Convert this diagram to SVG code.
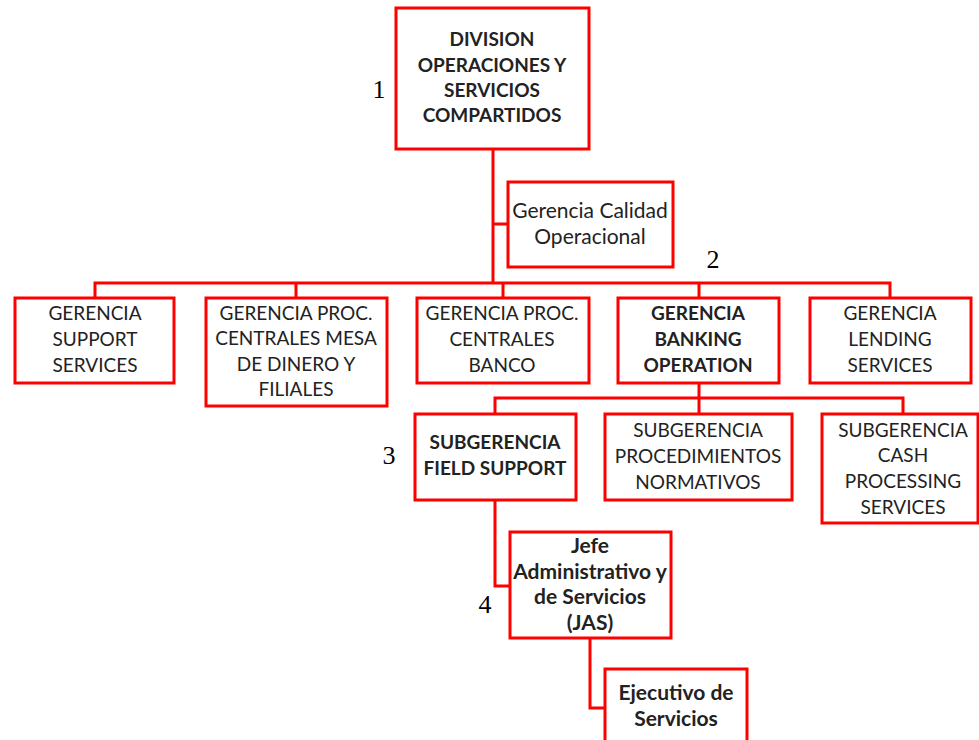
<svg xmlns="http://www.w3.org/2000/svg" width="979" height="740" viewBox="0 0 979 740">
  <style>
    .box { fill: #ffffff; stroke: #ff0000; stroke-width: 3; }
    .wire { fill: none; stroke: #ff0000; stroke-width: 3; }
    .t { font-family: Lato, "Open Sans", sans-serif; font-size: 19px; fill: #222222; text-anchor: middle; }
    .lc { font-size: 21px; }
    .b { font-weight: bold; }
    .num { font-family: "Liberation Serif", serif; font-size: 26px; fill: #000000; text-anchor: middle; }
  </style>
  <rect width="979" height="740" fill="#ffffff"/>

  <!-- connectors -->
  <g id="connectors">
    <path class="wire" d="M493 149 V283"/>
    <path class="wire" d="M493 224 H507"/>
    <path class="wire" d="M95 298 V283 H890 V298"/>
    <path class="wire" d="M296 283 V298"/>
    <path class="wire" d="M503 283 V298"/>
    <path class="wire" d="M699 283 V298"/>
    <path class="wire" d="M699 383 V414"/>
    <path class="wire" d="M495 414 V398 H903 V414"/>
    <path class="wire" d="M495 500 V586 H510"/>
    <path class="wire" d="M590 638 V708 H605"/>
  </g>

  <g id="division">
    <rect class="box" x="396" y="8" width="193" height="141"/>
    <text class="t b" x="492" y="46">DIVISION</text>
    <text class="t b" x="492" y="72">OPERACIONES Y</text>
    <text class="t b" x="492" y="97">SERVICIOS</text>
    <text class="t b" x="492" y="122">COMPARTIDOS</text>
  </g>

  <g id="calidad">
    <rect class="box" x="508" y="182" width="165" height="85"/>
    <text class="t lc" x="590" y="218">Gerencia Calidad</text>
    <text class="t lc" x="590" y="244">Operacional</text>
  </g>

  <g id="support-services">
    <rect class="box" x="15" y="298" width="159" height="85"/>
    <text class="t" x="95" y="320">GERENCIA</text>
    <text class="t" x="95" y="346">SUPPORT</text>
    <text class="t" x="95" y="372">SERVICES</text>
  </g>

  <g id="mesa-dinero">
    <rect class="box" x="206" y="298" width="181" height="108"/>
    <text class="t" x="296" y="320">GERENCIA PROC.</text>
    <text class="t" x="296" y="345">CENTRALES MESA</text>
    <text class="t" x="296" y="371">DE DINERO Y</text>
    <text class="t" x="296" y="396">FILIALES</text>
  </g>

  <g id="centrales-banco">
    <rect class="box" x="417" y="298" width="172" height="85"/>
    <text class="t" x="502" y="320">GERENCIA PROC.</text>
    <text class="t" x="502" y="346">CENTRALES</text>
    <text class="t" x="502" y="372">BANCO</text>
  </g>

  <g id="banking-operation">
    <rect class="box" x="618" y="298" width="161" height="85"/>
    <text class="t b" x="698" y="320">GERENCIA</text>
    <text class="t b" x="698" y="346">BANKING</text>
    <text class="t b" x="698" y="372">OPERATION</text>
  </g>

  <g id="lending-services">
    <rect class="box" x="810" y="298" width="161" height="85"/>
    <text class="t" x="890" y="320">GERENCIA</text>
    <text class="t" x="890" y="346">LENDING</text>
    <text class="t" x="890" y="372">SERVICES</text>
  </g>

  <g id="field-support">
    <rect class="box" x="415" y="414" width="161" height="86"/>
    <text class="t b" x="495" y="449">SUBGERENCIA</text>
    <text class="t b" x="495" y="475">FIELD SUPPORT</text>
  </g>

  <g id="procedimientos">
    <rect class="box" x="605" y="414" width="187" height="86"/>
    <text class="t" x="698" y="437">SUBGERENCIA</text>
    <text class="t" x="698" y="463">PROCEDIMIENTOS</text>
    <text class="t" x="698" y="489">NORMATIVOS</text>
  </g>

  <g id="cash-processing">
    <rect class="box" x="822" y="414" width="156" height="109"/>
    <text class="t" x="903" y="437">SUBGERENCIA</text>
    <text class="t" x="903" y="462">CASH</text>
    <text class="t" x="903" y="488">PROCESSING</text>
    <text class="t" x="903" y="514">SERVICES</text>
  </g>

  <g id="jas">
    <rect class="box" x="510" y="532" width="161" height="106"/>
    <text class="t lc b" x="590" y="553">Jefe</text>
    <text class="t lc b" x="590" y="579">Administrativo y</text>
    <text class="t lc b" x="590" y="604">de Servicios</text>
    <text class="t lc b" x="590" y="630">(JAS)</text>
  </g>

  <g id="ejecutivo">
    <rect class="box" x="605" y="669" width="142" height="80"/>
    <text class="t lc b" x="676" y="700">Ejecutivo de</text>
    <text class="t lc b" x="676" y="726">Servicios</text>
  </g>

  <g id="levels">
    <text class="num" x="379" y="98">1</text>
    <text class="num" x="713" y="268">2</text>
    <text class="num" x="389" y="464">3</text>
    <text class="num" x="485" y="613">4</text>
  </g>
</svg>
